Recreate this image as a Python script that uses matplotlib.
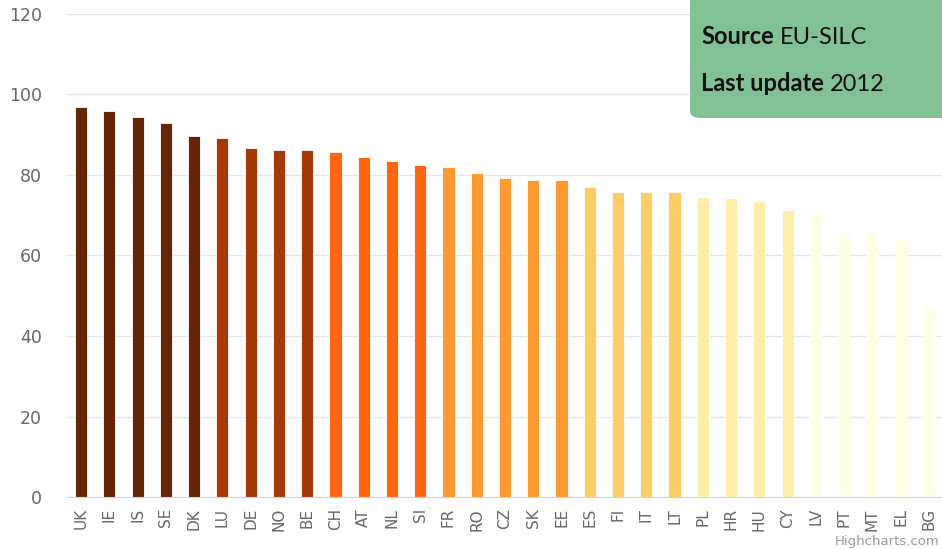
import numpy as np
import matplotlib.pyplot as plt
from matplotlib.patches import FancyBboxPatch

countries = ['UK', 'IE', 'IS', 'SE', 'DK', 'LU', 'DE', 'NO', 'BE', 'CH', 'AT', 'NL',
             'SI', 'FR', 'RO', 'CZ', 'SK', 'EE', 'ES', 'FI', 'IT', 'LT', 'PL', 'HR',
             'HU', 'CY', 'LV', 'PT', 'MT', 'EL', 'BG']
values = [96.9, 95.9, 94.5, 92.8, 89.6, 89.3, 86.6, 86.2, 86.2, 85.6, 84.5, 83.5,
          82.4, 82.1, 80.4, 79.2, 78.8, 78.8, 77.1, 75.8, 75.8, 75.8, 74.6, 74.3,
          73.6, 71.2, 70.5, 65.8, 65.8, 64.0, 47.5]
# colour class per bar
classes = [0, 0, 0, 0, 0, 1, 1, 1, 1, 2, 2, 2, 2, 3, 3, 3, 3, 3,
           4, 4, 4, 4, 5, 5, 5, 5, 6, 6, 6, 6, 6]
palette = ['#662506', '#A63A06', '#FF6611', '#FF9A2E', '#FFCC66', '#FFEDAA', '#FFFFE5']

fig = plt.figure(figsize=(9.42, 5.48), dpi=100)
ax = fig.add_axes([67 / 942, 51 / 548, 876 / 942, 483 / 548])

x = np.arange(len(countries))
ax.bar(x, values, width=0.43, color=[palette[c] for c in classes],
       edgecolor='white', linewidth=0.6, zorder=3)

ax.set_xlim(-0.5, len(countries) - 0.5)
ax.set_ylim(0, 120)
ax.set_yticks([0, 20, 40, 60, 80, 100, 120])
ax.set_xticks(x)
ax.set_xticklabels(countries, rotation=90, fontsize=11, color='#666666')
ax.tick_params(axis='x', length=0, pad=8)
ax.tick_params(axis='y', length=0, pad=18, labelsize=12.5, labelcolor='#666666')
ax.grid(axis='y', color='#E6E6E6', linewidth=1, zorder=0)
for s in ['top', 'right', 'left']:
    ax.spines[s].set_visible(False)
ax.spines['bottom'].set_color('#CCD6EB')
ax.spines['bottom'].set_zorder(4)

# info box, top right
box = FancyBboxPatch((690 / 942, 1 - 118 / 548), 0.3, 0.3,
                     boxstyle='round,pad=0,rounding_size=0.012',
                     transform=fig.transFigure, facecolor='#82C196',
                     edgecolor='none', zorder=5)
fig.patches.append(box)

renderer = fig.canvas.get_renderer()
for label, val, base in [('Source', 'EU-SILC', 44), ('Last update', '2012', 91)]:
    t = fig.text(701 / 942, 1 - base / 548, label, fontsize=17, fontweight='bold',
                 family='Lato', color='#111111', va='baseline', zorder=6)
    x1 = t.get_window_extent(renderer).x1
    fig.text((x1 + 6) / 942, 1 - base / 548, val, fontsize=17,
             family='Lato', color='#111111', va='baseline', zorder=6)

fig.text(940 / 942, 1 - 541 / 548, 'Highcharts.com', fontsize=9.5, color='#999999',
         ha='right', va='center')

fig.savefig('out.png', dpi=100)
